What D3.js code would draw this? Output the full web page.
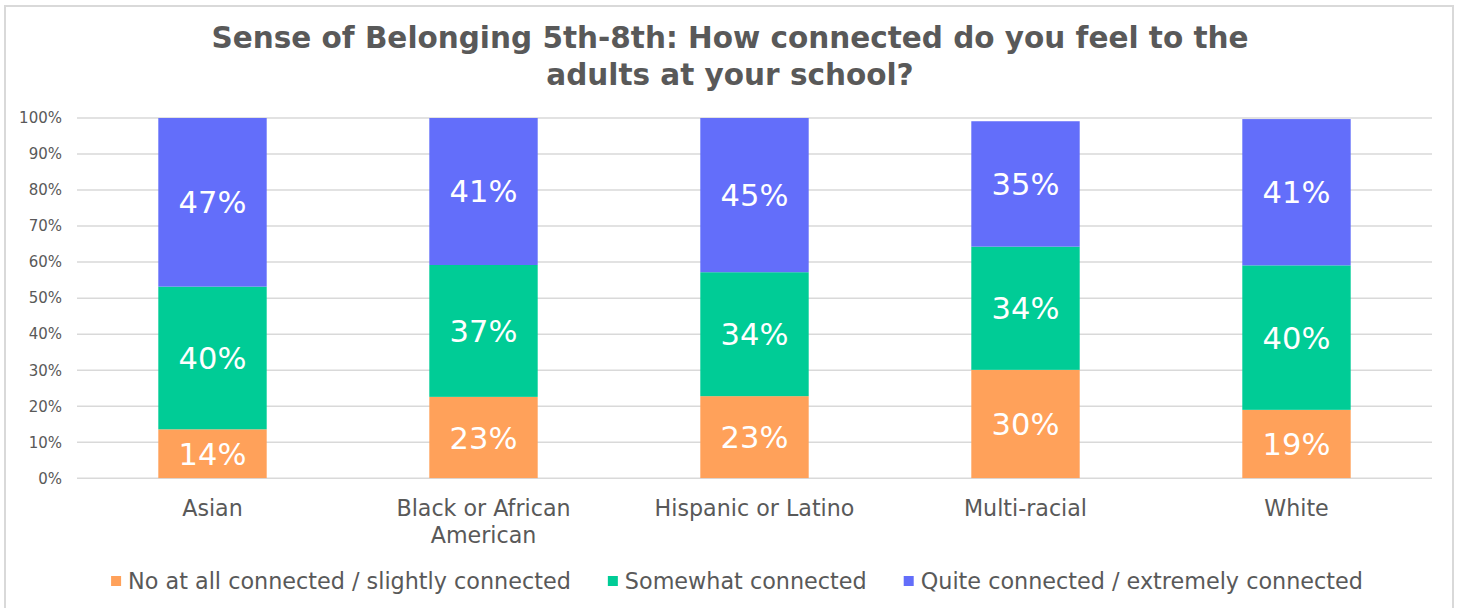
<!DOCTYPE html>
<html>
<head>
<meta charset="utf-8">
<script src="https://cdn.jsdelivr.net/npm/d3@7"></script>
<style>
  body { margin: 0; background: #fff; }
  svg { display: block; }
  text { font-family: "DejaVu Sans", Verdana, sans-serif; }
</style>
</head>
<body>
<svg id="chart" width="1464" height="608"></svg>
<script>
// Chart text
const titleLines = ["Sense of Belonging 5th-8th: How connected do you feel to the", "adults at your school?"];
const categories = ["Asian", "Black or African American", "Hispanic or Latino", "Multi-racial", "White"];
const categoryLines = [["Asian"], ["Black or African", "American"], ["Hispanic or Latino"], ["Multi-racial"], ["White"]];
const seriesNames = ["No at all connected / slightly connected", "Somewhat connected", "Quite connected / extremely connected"];

// Percent of students per response group
const notConnected      = [13.6, 22.6, 22.8, 30.1, 19.0];
const somewhatConnected = [39.6, 36.6, 34.4, 34.2, 40.1];
const quiteConnected    = [46.8, 40.8, 44.8, 34.8, 40.6];

const yTicks = [0, 10, 20, 30, 40, 50, 60, 70, 80, 90, 100];
const seriesColors = ["#FFA15A", "#00CC96", "#636EFA"];

const svg = d3.select("#chart");
const plot = { left: 77, right: 1432, top: 118, bottom: 478.3 };

// Outer frame
svg.append("rect")
  .attr("x", 5).attr("y", 6)
  .attr("width", 1448).attr("height", 640)
  .attr("fill", "#fff")
  .attr("stroke", "#d9d9d9").attr("stroke-width", 2);

// Title
svg.append("g").selectAll("text")
  .data(titleLines)
  .join("text")
  .attr("x", 730)
  .attr("y", (d, i) => 48 + i * 37)
  .attr("text-anchor", "middle")
  .attr("font-size", 29.5)
  .attr("font-weight", "bold")
  .attr("fill", "#595959")
  .text(d => d);

// Scales
const x = d3.scaleBand()
  .domain(categories)
  .range([plot.left, plot.right])
  .paddingInner(0.6)
  .paddingOuter(0.3);

const y = d3.scaleLinear()
  .domain([0, 100])
  .range([plot.bottom, plot.top]);

// Gridlines
svg.append("g").selectAll("line")
  .data(yTicks)
  .join("line")
  .attr("x1", plot.left).attr("x2", plot.right)
  .attr("y1", d => y(d)).attr("y2", d => y(d))
  .attr("stroke", "#d9d9d9").attr("stroke-width", 1.5);

// Y axis labels
const yAxis = d3.axisLeft(y)
  .tickValues(yTicks)
  .tickSize(0)
  .tickPadding(15)
  .tickFormat(d => d + "%");

const yAxisG = svg.append("g")
  .attr("transform", `translate(${plot.left},0)`)
  .call(yAxis);
yAxisG.select(".domain").remove();
yAxisG.selectAll("text")
  .attr("font-family", "DejaVu Sans, Verdana, sans-serif")
  .attr("font-size", 15)
  .attr("fill", "#595959");

// Stacked data
const rows = categories.map((c, i) => ({
  category: c,
  s0: notConnected[i],
  s1: somewhatConnected[i],
  s2: quiteConnected[i]
}));
const stack = d3.stack().keys(["s0", "s1", "s2"]);
const layers = stack(rows);

// Clip bars to the 0–100% axis range
svg.append("clipPath").attr("id", "plot-clip")
  .append("rect")
  .attr("x", plot.left).attr("y", plot.top)
  .attr("width", plot.right - plot.left)
  .attr("height", plot.bottom - plot.top);

const barsG = svg.append("g").attr("clip-path", "url(#plot-clip)");
layers.forEach((layer, li) => {
  barsG.append("g")
    .attr("fill", seriesColors[li])
    .selectAll("rect")
    .data(layer)
    .join("rect")
    .attr("x", d => x(d.data.category))
    .attr("width", x.bandwidth())
    .attr("y", d => y(d[1]))
    .attr("height", d => y(d[0]) - y(d[1]));
});

// Value labels, centred in the visible part of each segment
const labelsG = svg.append("g");
layers.forEach((layer, li) => {
  labelsG.append("g")
    .selectAll("text")
    .data(layer)
    .join("text")
    .attr("x", d => x(d.data.category) + x.bandwidth() / 2)
    .attr("y", d => (y(Math.min(d[0], 100)) + y(Math.min(d[1], 100))) / 2)
    .attr("dy", "0.36em")
    .attr("text-anchor", "middle")
    .attr("font-size", 30.5)
    .attr("fill", "#fff")
    .text(d => Math.round(d.data[layer.key]) + "%");
});

// Category labels
const catG = svg.append("g");
categories.forEach((c, i) => {
  catG.append("text")
    .attr("x", x(c) + x.bandwidth() / 2)
    .attr("y", 516)
    .attr("text-anchor", "middle")
    .attr("font-size", 22.2)
    .attr("fill", "#595959")
    .selectAll("tspan")
    .data(categoryLines[i])
    .join("tspan")
    .attr("x", x(c) + x.bandwidth() / 2)
    .attr("dy", (d, j) => j === 0 ? 0 : 27)
    .text(d => d);
});

// Legend
const legendG = svg.append("g");
const items = legendG.selectAll("g")
  .data(seriesNames)
  .join("g");
items.append("rect")
  .attr("width", 10).attr("height", 10)
  .attr("y", 576)
  .attr("fill", (d, i) => seriesColors[i]);
items.append("text")
  .attr("x", 17)
  .attr("y", 589)
  .attr("font-size", 22.3)
  .attr("fill", "#595959")
  .text(d => d);

const gap = 37;
const widths = [];
items.each(function () {
  widths.push(17 + d3.select(this).select("text").node().getComputedTextLength());
});
const total = d3.sum(widths) + gap * (widths.length - 1);
let cursor = 737 - total / 2;
items.each(function (d, i) {
  d3.select(this).attr("transform", `translate(${cursor},0)`);
  cursor += widths[i] + gap;
});
</script>
</body>
</html>
